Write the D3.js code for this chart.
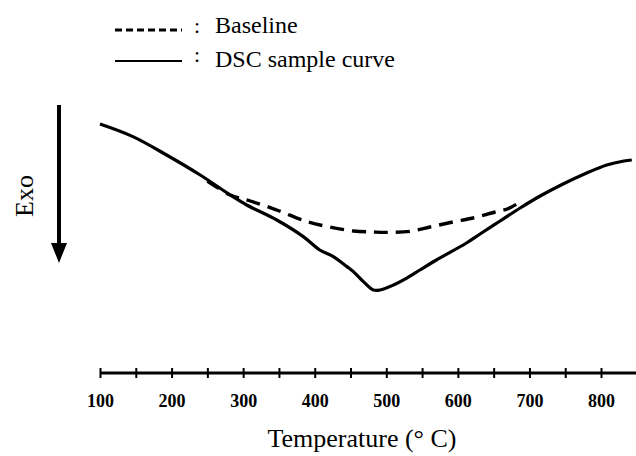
<!DOCTYPE html>
<html>
<head>
<meta charset="utf-8">
<script src="https://cdn.jsdelivr.net/npm/d3@7"></script>
<style>
  body { margin: 0; background: #fff; }
  text { font-family: "Liberation Serif", "Times New Roman", serif; fill: #000; }
</style>
</head>
<body>
<div id="chart"></div>
<script>
// temperature (deg C) and heat flow (arbitrary units)
var dscTemp = [100, 146, 193, 240, 282, 305, 347, 384, 407, 426, 445, 454, 468, 482, 491, 510, 528, 547, 570, 612, 631, 659, 687, 715, 747, 780, 808, 832, 843]
var dscFlow = [98, 91.7, 82.5, 72.5, 62.5, 57.5, 50, 41.7, 35, 31.7, 26.7, 24.2, 19.2, 15, 15, 17.5, 20.8, 25, 30, 38.5, 43, 49.5, 56, 62, 68, 73.5, 77.5, 79.5, 80]

var baseTemp = [250, 282, 310, 347, 389, 421, 454, 481, 501, 533, 561, 593, 621, 652, 669, 687]
var baseFlow = [69.5, 62.5, 59.5, 55, 49.2, 46.5, 44.5, 44, 43.8, 44.3, 46.5, 49, 51, 54, 55.5, 59]

var tickValues = [100, 150, 200, 250, 300, 350, 400, 450, 500, 550, 600, 650, 700, 750, 800, 850]
var tickLabels = [100, 200, 300, 400, 500, 600, 700, 800]

var width = 636, height = 456

var svg = d3.select("#chart").append("svg")
    .attr("width", width)
    .attr("height", height)

var x = d3.scaleLinear().domain([100, 850]).range([100, 636.8])
var y = d3.scaleLinear().domain([0, 100]).range([320, 120])

// x axis
var axisY = 373
var xAxis = d3.axisBottom(x)
    .tickValues(tickValues)
    .tickSize(5)
    .tickFormat(function(d) { return tickLabels.includes(d) ? d : "" })

var gx = svg.append("g")
    .attr("transform", "translate(0," + axisY + ")")
    .call(xAxis)

gx.select(".domain")
    .attr("stroke", "#000")
    .attr("stroke-width", 3)
    .attr("d", "M" + x(100) + ",0H" + width)

gx.selectAll(".tick line")
    .attr("y1", -5)
    .attr("y2", 5)
    .attr("stroke", "#000")
    .attr("stroke-width", 2)

gx.selectAll(".tick text")
    .attr("y", 34)
    .attr("dy", 0)
    .style("font-size", "18px")
    .style("font-weight", "bold")
    .style("font-family", "'Liberation Serif', serif")
    .attr("fill", "#000")

svg.append("text")
    .attr("x", 362)
    .attr("y", 447)
    .attr("text-anchor", "middle")
    .style("font-size", "26px")
    .text("Temperature (\u00b0  C)")

// Exo arrow on the left
svg.append("line")
    .attr("x1", 59).attr("y1", 105)
    .attr("x2", 59).attr("y2", 246)
    .attr("stroke", "#000")
    .attr("stroke-width", 4)
svg.append("path")
    .attr("d", "M51,243L67,243L59,263Z")
    .attr("fill", "#000")

svg.append("text")
    .attr("transform", "translate(33,196) rotate(-90)")
    .attr("text-anchor", "middle")
    .style("font-size", "26px")
    .text("Exo")

// curves
var line = d3.line()
    .x(function(d) { return x(d[0]) })
    .y(function(d) { return y(d[1]) })
    .curve(d3.curveCatmullRom.alpha(0.5))

var dscData = dscTemp.map(function(t, i) { return [t, dscFlow[i]] })
var baseData = baseTemp.map(function(t, i) { return [t, baseFlow[i]] })

svg.append("path")
    .datum(dscData)
    .attr("d", line)
    .attr("fill", "none")
    .attr("stroke", "#000")
    .attr("stroke-width", 3.2)
    .attr("stroke-linejoin", "round")

svg.append("path")
    .datum(baseData)
    .attr("d", line)
    .attr("fill", "none")
    .attr("stroke", "#000")
    .attr("stroke-width", 3.4)
    .attr("stroke-dasharray", "14,8")

// legend
var legend = [
    { name: "Baseline", dash: "7,4", y: 30, ty: 33, cy: 33 },
    { name: "DSC sample curve", dash: null, y: 61, ty: 67, cy: 62 }
]

legend.forEach(function(d) {
    svg.append("line")
        .attr("x1", 115).attr("x2", 182)
        .attr("y1", d.y).attr("y2", d.y)
        .attr("stroke", "#000")
        .attr("stroke-width", d.dash ? 3 : 2)
        .attr("stroke-dasharray", d.dash)
    svg.append("text")
        .attr("x", 194).attr("y", d.cy)
        .style("font-size", "22px")
        .text(":")
    svg.append("text")
        .attr("x", 215).attr("y", d.ty)
        .style("font-size", "24px")
        .text(d.name)
})
</script>
</body>
</html>
